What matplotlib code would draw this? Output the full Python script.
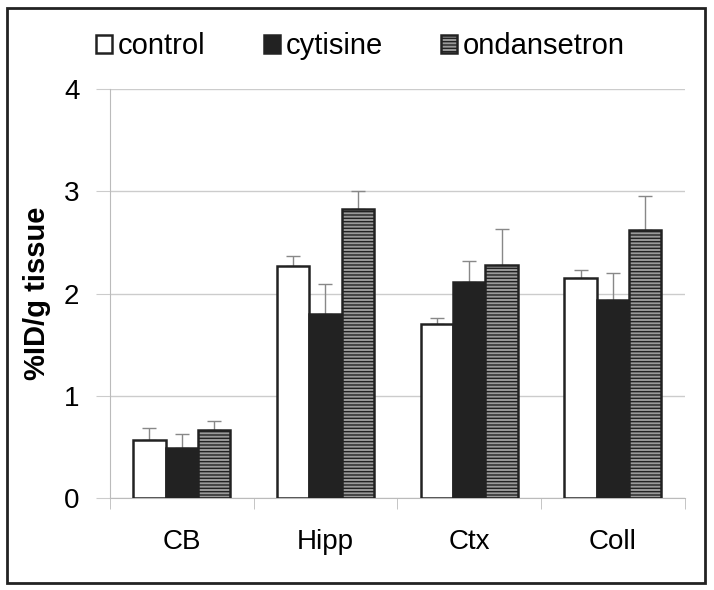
import matplotlib.pyplot as plt
import matplotlib.patches as patches
import numpy as np

plt.rcParams['font.family'] = ['Liberation Sans', 'DejaVu Sans']
plt.rcParams['hatch.linewidth'] = 1.0

regions = ['CB', 'Hipp', 'Ctx', 'Coll']
series = ['control', 'cytisine', 'ondansetron']
control = [0.57, 2.27, 1.70, 2.15]
cytisine = [0.49, 1.80, 2.11, 1.94]
ondansetron = [0.66, 2.83, 2.28, 2.62]
control_err = [0.11, 0.10, 0.06, 0.08]
cytisine_err = [0.14, 0.29, 0.21, 0.26]
ondansetron_err = [0.09, 0.17, 0.35, 0.33]

fig = plt.figure(figsize=(7.14, 5.90), dpi=100)
ax = fig.add_axes([0.154, 0.156, 0.805, 0.693])

# outer frame round the whole picture
fig.patches.append(patches.Rectangle((0.010, 0.012), 0.978, 0.975, transform=fig.transFigure,
                                     fill=False, edgecolor='#222222', linewidth=2))

x = np.arange(len(regions))
w = 0.225
styles = [
    dict(facecolor='white', edgecolor='#222222', hatch=None),
    dict(facecolor='#222222', edgecolor='#222222', hatch=None),
    dict(facecolor='#9a9a9a', edgecolor='#222222', hatch='-----'),
]
vals = [control, cytisine, ondansetron]
errs = [control_err, cytisine_err, ondansetron_err]
handles = []
for i in range(3):
    b = ax.bar(x + (i - 1) * w, vals[i], w, linewidth=1.8, zorder=3, **styles[i])
    ax.errorbar(x + (i - 1) * w, vals[i], yerr=[[0] * 4, errs[i]], fmt='none',
                ecolor='#888888', elinewidth=1, capsize=5, capthick=1, zorder=2)
    handles.append(b)

ax.set_xlim(-0.5, 3.5)
ax.set_ylim(0, 4)
ax.set_yticks([0, 1, 2, 3, 4])
ax.yaxis.grid(True, color='#cccccc', linewidth=1)
ax.set_axisbelow(True)
ax.set_xticks(x)
ax.set_xticklabels(regions, fontsize=20)
ax.set_xticks(np.arange(-0.5, 4, 1), minor=True)
ax.tick_params(axis='x', which='major', length=0, pad=22)
ax.tick_params(axis='x', which='minor', length=8, color='#bbbbbb')
ax.tick_params(axis='y', labelsize=20, length=10, color='#cccccc', pad=12)
for s in ['top', 'right']:
    ax.spines[s].set_visible(False)
for s in ['left', 'bottom']:
    ax.spines[s].set_color('#bbbbbb')
ax.set_ylabel('%ID/g tissue', fontsize=21, fontweight='bold', labelpad=9)

fig.legend(handles, series, loc='upper center', bbox_to_anchor=(0.505, 0.99), ncol=3,
           frameon=False, fontsize=21, handlelength=0.55, handleheight=0.55,
           handletextpad=0.2, columnspacing=2.0)

fig.savefig('out.png', dpi=100)
